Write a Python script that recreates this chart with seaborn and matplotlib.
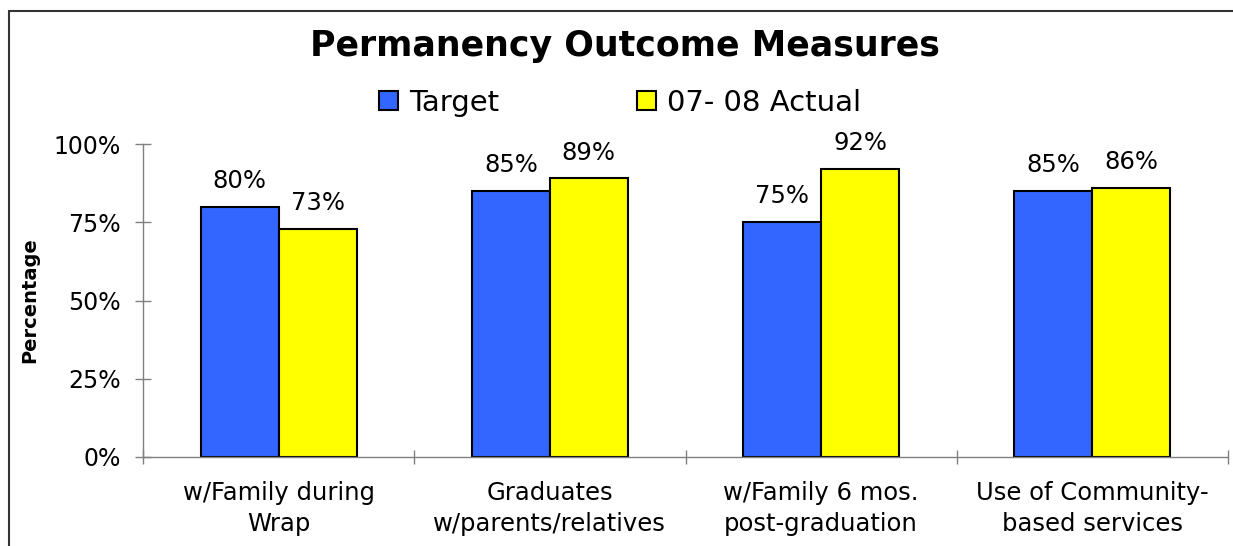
import matplotlib
matplotlib.use("Agg")
import matplotlib.pyplot as plt
import seaborn as sns
import pandas as pd
from matplotlib.patches import Patch
from matplotlib.lines import Line2D

categories = ["w/Family during\nWrap", "Graduates\nw/parents/relatives",
              "w/Family 6 mos.\npost-graduation", "Use of Community-\nbased services"]
series_names = ["Target", "07- 08 Actual"]
target = [80, 85, 75, 85]
actual = [73, 89, 92, 86]
y_ticks = [0, 25, 50, 75, 100]
y_tick_labels = ["0%", "25%", "50%", "75%", "100%"]
colors = ["#3366FF", "#FFFF00"]

df = pd.DataFrame({
    "Category": categories * 2,
    "Series": [series_names[0]] * 4 + [series_names[1]] * 4,
    "Value": target + actual,
})

sns.set_style("white")
plt.rcParams["font.family"] = ["DejaVu Sans"]
plt.rcParams["text.color"] = "black"
plt.rcParams["xtick.color"] = "black"
plt.rcParams["ytick.color"] = "black"
plt.rcParams["axes.labelcolor"] = "black"

fig = plt.figure(figsize=(12.33, 5.46), dpi=100)
ax = fig.add_axes([143 / 1233, 1 - 457 / 546, (1228 - 143) / 1233, (457 - 144) / 546])

sns.barplot(data=df, x="Category", y="Value", hue="Series", order=categories,
            hue_order=series_names, palette=colors, width=0.575, saturation=1,
            edgecolor="black", linewidth=1.5, ax=ax, legend=False)

for cont in ax.containers:
    ax.bar_label(cont, labels=[f"{v:.0f}%" for v in cont.datavalues],
                 padding=10, fontsize=17.5)

ax.set_ylim(0, 100)
ax.set_xlim(-0.5, 3.5)
ax.set_yticks(y_ticks)
ax.set_yticklabels(y_tick_labels, fontsize=17)
ax.set_xticks([-0.5, 0.5, 1.5, 2.5, 3.5])
ax.set_xticklabels([])
ax.set_xticks(range(len(categories)), minor=True)
ax.set_xticklabels(categories, minor=True, fontsize=17.5, linespacing=1.4)
ax.tick_params(axis="x", which="minor", bottom=False, length=0, pad=17)
ax.tick_params(axis="x", which="major", bottom=True, direction="inout", length=10,
               color="#808080", width=1)
ax.tick_params(axis="y", left=True, direction="inout", length=12, color="#808080",
               width=1, pad=10)
ax.set_xlabel("")
ax.set_ylabel("Percentage", fontsize=14, fontweight="bold", labelpad=10)

for s in ["top", "right"]:
    ax.spines[s].set_visible(False)
for s in ["left", "bottom"]:
    ax.spines[s].set_color("#808080")
    ax.spines[s].set_linewidth(1)

fig.text(625 / 1233, 1 - 46 / 546, "Permanency Outcome Measures", ha="center", va="center",
         fontsize=25, fontweight="bold")

handles = [Patch(facecolor=c, edgecolor="black", linewidth=1.5) for c in colors]
fig.legend(handles, series_names, loc="center", bbox_to_anchor=(620 / 1233, 1 - 103 / 546),
           ncol=2, frameon=False, fontsize=21, handlelength=0.65, handleheight=0.65,
           handletextpad=0.4, columnspacing=4.7)

# outer chart frame
fig.add_artist(Line2D([9 / 1233, 9 / 1233], [0, 1 - 11 / 546], transform=fig.transFigure,
                      color="#333333", linewidth=1.5))
fig.add_artist(Line2D([9 / 1233, 1], [1 - 11 / 546, 1 - 11 / 546], transform=fig.transFigure,
                      color="#333333", linewidth=1.5))

fig.savefig("out.png", dpi=100)
